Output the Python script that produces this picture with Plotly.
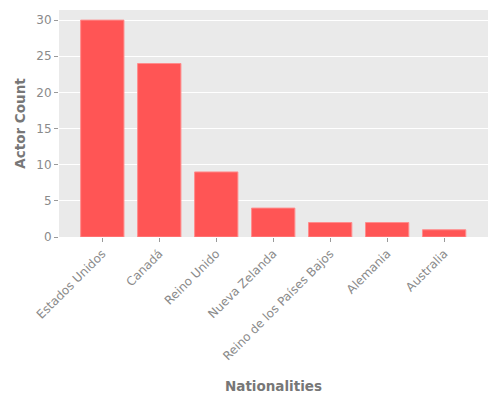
import plotly.graph_objects as go

nationalities = ["Estados Unidos", "Canadá", "Reino Unido", "Nueva Zelanda",
                 "Reino de los Países Bajos", "Alemania", "Australia"]
actor_counts = [30, 24, 9, 4, 2, 2, 1]

fig = go.Figure()
fig.add_trace(go.Bar(
    x=nationalities,
    y=actor_counts,
    width=0.76,
    marker=dict(color="#ff5555", line=dict(color="#ff8c8c", width=1)),
))

axis_font = dict(family="DejaVu Sans", size=12, color="#8a8a8a")
title_font = dict(family="DejaVu Sans", size=13.5, color="#777777")

# the page body has a default 8px margin, so margins are shifted to compensate
fig.update_layout(
    width=500, height=400,
    margin=dict(l=51, r=20, t=2, b=171),
    paper_bgcolor="white",
    plot_bgcolor="#eaeaea",
    showlegend=False,
)
fig.update_xaxes(
    range=[-0.76, 6.77],
    tickangle=-45,
    tickfont=axis_font,
    ticks="outside", ticklen=4, tickcolor="#9a9a9a",
    showgrid=False, zeroline=False, showline=False,
    automargin=False,
    title=dict(text="<b>Nationalities</b>", font=title_font, standoff=19),
)
fig.update_yaxes(
    range=[0, 31.4],
    tickvals=[0, 5, 10, 15, 20, 25, 30],
    tickfont=axis_font,
    ticks="outside", ticklen=4, tickcolor="#9a9a9a",
    gridcolor="white", gridwidth=1,
    zeroline=False, showline=False,
    automargin=False,
    title=dict(text="<b>Actor Count</b>", font=title_font, standoff=7),
)

fig.write_html("out.html")
